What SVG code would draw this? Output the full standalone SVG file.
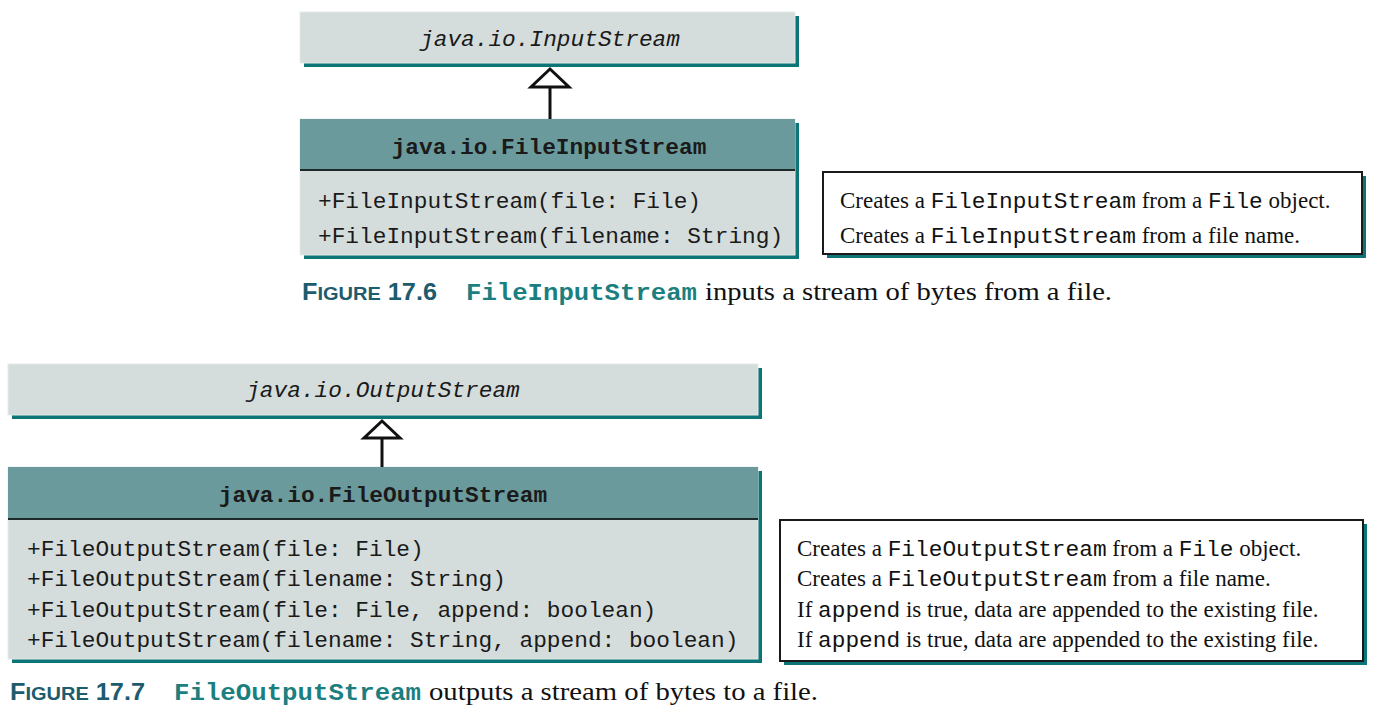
<svg xmlns="http://www.w3.org/2000/svg" width="1386" height="712" viewBox="0 0 1386 712">
<defs>
<style>
.shadow{fill:#0d7577;}
.light{fill:#d4dddc;stroke:#e4ebea;stroke-width:1;}
.head{fill:#6b9a9c;}
.desc{fill:#ffffff;stroke:#1a1a1a;stroke-width:2;}
.div{stroke:#1e2a2a;stroke-width:2;}
.mono{font-family:"Liberation Mono","DejaVu Sans Mono",monospace;font-size:22.8px;fill:#1a1a1a;}
.it{font-style:italic;}
.bold{font-weight:bold;}
.serif{font-family:"Liberation Serif","DejaVu Serif",serif;font-size:23px;fill:#111;}
.dm{font-family:"Liberation Mono","DejaVu Sans Mono",monospace;font-size:22.8px;}
.fig{font-family:"Liberation Sans","DejaVu Sans",sans-serif;font-weight:bold;fill:#1d5b6e;}
.cap{font-family:"Liberation Mono","DejaVu Sans Mono",monospace;font-weight:bold;font-size:24px;fill:#1b7f7f;}
.capt{font-family:"Liberation Serif","DejaVu Serif",serif;font-size:26px;fill:#111;}
.edge{stroke:#111;stroke-width:3;fill:none;}
.tri{fill:#ffffff;stroke:#111;stroke-width:3;stroke-linejoin:miter;}
</style>
</defs>

<g id="InputStream">
<rect class="shadow" x="304" y="16" width="495" height="51"/>
<rect class="light" x="300" y="12" width="495" height="51"/>
<text class="mono it" x="550" y="46" text-anchor="middle">java.io.InputStream</text>
</g>

<g id="FileInputStream">
<rect class="shadow" x="304" y="123" width="495" height="136"/>
<rect class="light" x="300" y="119" width="495" height="136"/>
<rect class="head" x="300" y="119" width="495" height="51"/>
<line class="div" x1="300" y1="170" x2="795" y2="170"/>
<text class="mono bold" x="549" y="154" text-anchor="middle">java.io.FileInputStream</text>
<text class="mono" x="318" y="208">+FileInputStream(file: File)</text>
<text class="mono" x="318" y="243">+FileInputStream(filename: String)</text>
</g>

<g id="FileInputStreamDesc">
<rect class="shadow" x="827" y="176" width="539" height="82"/>
<rect class="desc" x="823" y="172" width="539" height="82"/>
<text class="serif" x="840" y="208">Creates a <tspan class="dm">FileInputStream</tspan> from a <tspan class="dm">File</tspan> object.</text>
<text class="serif" x="840" y="243">Creates a <tspan class="dm">FileInputStream</tspan> from a file name.</text>
</g>

<g id="Caption1">
<text class="fig" x="302" y="300" textLength="135" lengthAdjust="spacingAndGlyphs"><tspan font-size="24">F</tspan><tspan font-size="19">IGURE</tspan><tspan font-size="24"> 17.6</tspan></text>
<text class="cap" x="466" y="300" textLength="231" lengthAdjust="spacingAndGlyphs">FileInputStream</text>
<text class="capt" x="705" y="300" textLength="407" lengthAdjust="spacingAndGlyphs">inputs a stream of bytes from a file.</text>
</g>

<g id="OutputStream">
<rect class="shadow" x="12" y="368" width="750" height="51"/>
<rect class="light" x="8" y="364" width="750" height="51"/>
<text class="mono it" x="383" y="397" text-anchor="middle">java.io.OutputStream</text>
</g>

<g id="FileOutputStream">
<rect class="shadow" x="12" y="471" width="750" height="192"/>
<rect class="light" x="8" y="467" width="750" height="192"/>
<rect class="head" x="8" y="467" width="750" height="52"/>
<line class="div" x1="8" y1="519" x2="758" y2="519"/>
<text class="mono bold" x="383" y="502" text-anchor="middle">java.io.FileOutputStream</text>
<text class="mono" x="27" y="556">+FileOutputStream(file: File)</text>
<text class="mono" x="27" y="586">+FileOutputStream(filename: String)</text>
<text class="mono" x="27" y="617">+FileOutputStream(file: File, append: boolean)</text>
<text class="mono" x="27" y="647">+FileOutputStream(filename: String, append: boolean)</text>
</g>

<g id="FileOutputStreamDesc">
<rect class="shadow" x="784" y="524" width="583" height="141"/>
<rect class="desc" x="780" y="520" width="583" height="141"/>
<text class="serif" x="797" y="556">Creates a <tspan class="dm">FileOutputStream</tspan> from a <tspan class="dm">File</tspan> object.</text>
<text class="serif" x="797" y="586">Creates a <tspan class="dm">FileOutputStream</tspan> from a file name.</text>
<text class="serif" x="797" y="617">If <tspan class="dm">append</tspan> is true, data are appended to the existing file.</text>
<text class="serif" x="797" y="647">If <tspan class="dm">append</tspan> is true, data are appended to the existing file.</text>
</g>

<g id="Caption2">
<text class="fig" x="10" y="700" textLength="135" lengthAdjust="spacingAndGlyphs"><tspan font-size="24">F</tspan><tspan font-size="19">IGURE</tspan><tspan font-size="24"> 17.7</tspan></text>
<text class="cap" x="174" y="700" textLength="247" lengthAdjust="spacingAndGlyphs">FileOutputStream</text>
<text class="capt" x="429" y="700" textLength="389" lengthAdjust="spacingAndGlyphs">outputs a stream of bytes to a file.</text>
</g>

<g id="connectors">
<line class="edge" x1="550" y1="87" x2="550" y2="119"/>
<polygon class="tri" points="550,69 531,87 569,87"/>
<line class="edge" x1="382" y1="438" x2="382" y2="467"/>
<polygon class="tri" points="382,421 364,438 400,438"/>
</g>
</svg>
